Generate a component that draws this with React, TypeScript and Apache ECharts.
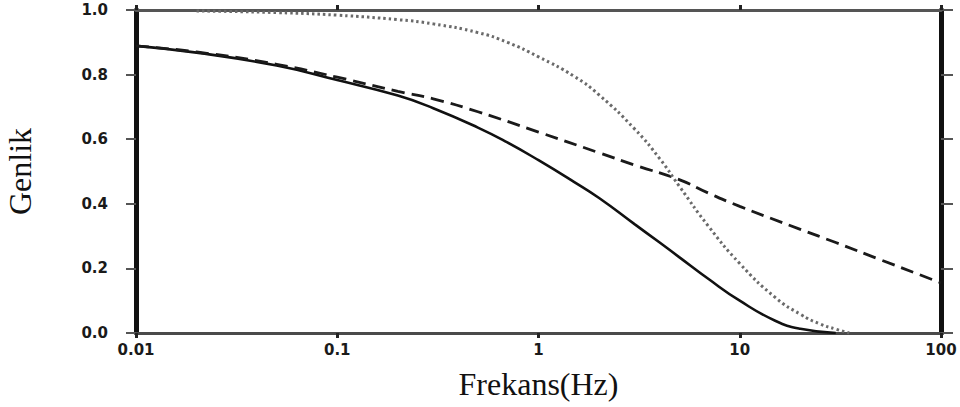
import React, { useEffect, useRef } from "react";
import * as echarts from "echarts";

const xTickLabels = ["0.01", "0.1", "1", "10", "100"];
const xTickValues = [0.01, 0.1, 1, 10, 100];

const solidFreq = [0.01, 0.02, 0.05, 0.1, 0.2, 0.3, 0.5, 0.7, 1, 1.5, 2, 3, 4, 5, 7, 10, 15, 20, 30];
const solidAmp = [0.889, 0.868, 0.828, 0.783, 0.735, 0.696, 0.636, 0.59, 0.535, 0.468, 0.418, 0.337, 0.28, 0.235, 0.167, 0.1, 0.038, 0.013, 0];

const dashedFreq = [0.01, 0.02, 0.05, 0.1, 0.2, 0.3, 0.5, 1, 2, 3, 5, 7, 10, 20, 30, 50, 100];
const dashedAmp = [0.889, 0.87, 0.832, 0.792, 0.748, 0.725, 0.685, 0.622, 0.558, 0.52, 0.475, 0.433, 0.392, 0.321, 0.28, 0.227, 0.155];

const dottedFreq = [0.02, 0.05, 0.1, 0.2, 0.3, 0.5, 0.7, 1, 1.5, 2, 3, 4, 5, 7, 10, 15, 20, 25, 30, 35];
const dottedAmp = [0.997, 0.992, 0.984, 0.97, 0.957, 0.93, 0.9, 0.855, 0.795, 0.737, 0.632, 0.54, 0.455, 0.33, 0.215, 0.11, 0.058, 0.028, 0.012, 0];

const zip = (xs: number[], ys: number[]) => xs.map((x, i) => [x, ys[i]]);

const fmtX = (v: number) => {
  let best = 0;
  let bd = Infinity;
  xTickValues.forEach((t, i) => {
    const d = Math.abs(Math.log10(v) - Math.log10(t));
    if (d < bd) {
      bd = d;
      best = i;
    }
  });
  return bd < 0.01 ? xTickLabels[best] : "";
};

const tickFont = {
  fontFamily: "DejaVu Sans",
  fontWeight: "bold" as const,
  fontSize: 15,
  color: "#1a1a1a",
};

export default function App() {
  const ref = useRef<HTMLDivElement>(null);
  useEffect(() => {
    if (!ref.current) return;
    const chart = echarts.init(ref.current, null, { renderer: "svg" });
    chart.setOption({
      animation: false,
      backgroundColor: "#ffffff",
      grid: { left: 136, right: 19, top: 10, bottom: 74, containLabel: false, outerBoundsMode: "none" },
      xAxis: [
        {
          type: "log",
          logBase: 10,
          min: 0.01,
          max: 100,
          position: "bottom",
          name: "Frekans(Hz)",
          nameLocation: "middle",
          nameGap: 35,
          nameTextStyle: { fontFamily: "Liberation Serif", fontSize: 32, color: "#111" },
          axisLine: { show: true, onZero: false, lineStyle: { color: "#4a4a4a", width: 3 } },
          axisTick: { show: true, inside: false, length: 5, lineStyle: { color: "#222", width: 3 } },
          axisLabel: { ...tickFont, margin: 9, formatter: fmtX },
          splitLine: { show: false },
          minorTick: { show: false },
        },
        {
          type: "log",
          logBase: 10,
          min: 0.01,
          max: 100,
          position: "top",
          axisLine: { show: true, onZero: false, lineStyle: { color: "#555", width: 3 } },
          axisTick: { show: true, inside: false, length: 5, lineStyle: { color: "#222", width: 3 } },
          axisLabel: { show: false },
          splitLine: { show: false },
        },
      ],
      yAxis: [
        {
          type: "value",
          min: 0,
          max: 1,
          interval: 0.2,
          position: "left",
          name: "Genlik",
          nameLocation: "middle",
          nameGap: 100,
          nameRotate: 90,
          nameTextStyle: { fontFamily: "Liberation Serif", fontSize: 32, color: "#111" },
          axisLine: { show: true, onZero: false, lineStyle: { color: "#111", width: 5 } },
          axisTick: { show: true, inside: false, length: 10, lineStyle: { color: "#555", width: 2 } },
          axisLabel: { ...tickFont, margin: 28, formatter: (v: number) => v.toFixed(1) },
          splitLine: { show: false },
        },
        {
          type: "value",
          min: 0,
          max: 1,
          interval: 0.2,
          position: "right",
          axisLine: { show: true, onZero: false, lineStyle: { color: "#111", width: 5 } },
          axisTick: { show: true, inside: false, length: 12, lineStyle: { color: "#555", width: 2 } },
          axisLabel: { show: false },
          splitLine: { show: false },
        },
      ],
      series: [
        {
          type: "line",
          name: "solid",
          data: zip(solidFreq, solidAmp),
          smooth: 0.5,
          showSymbol: false,
          symbol: "none",
          lineStyle: { color: "#111", width: 2.6, type: "solid" },
          z: 3,
        },
        {
          type: "line",
          name: "dashed",
          data: zip(dashedFreq, dashedAmp),
          smooth: 0.5,
          showSymbol: false,
          symbol: "none",
          lineStyle: { color: "#1a1a1a", width: 2.8, type: [13, 7] },
          z: 3,
        },
        {
          type: "line",
          name: "dotted",
          data: zip(dottedFreq, dottedAmp),
          smooth: 0.5,
          showSymbol: false,
          symbol: "none",
          lineStyle: { color: "#6a6a6a", width: 3, type: [2.5, 3], cap: "butt" },
          z: 3,
        },
      ],
    });
    return () => chart.dispose();
  }, []);
  return (
    <div
      ref={ref}
      style={{ position: "fixed", left: 0, top: 0, width: 960, height: 407, background: "#fff" }}
    />
  );
}
